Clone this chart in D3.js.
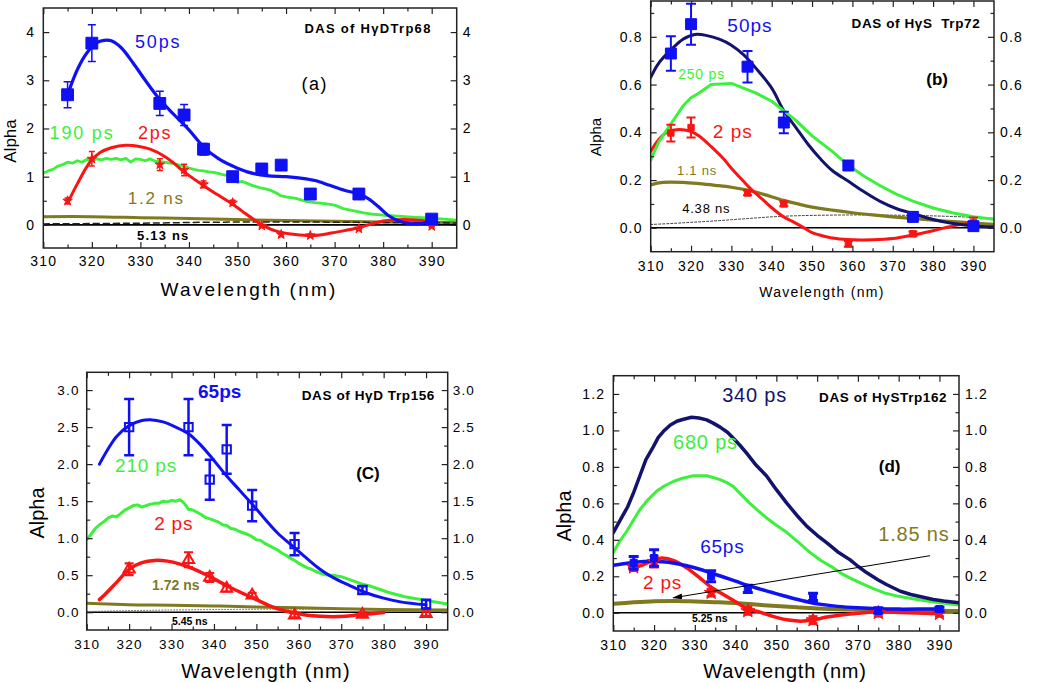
<!DOCTYPE html>
<html><head><meta charset="utf-8">
<script src="https://cdn.jsdelivr.net/npm/d3@7"></script>
<style>
body{margin:0;background:#fff}
svg{display:block}
text{font-family:"Liberation Sans",Arial,Helvetica,sans-serif;white-space:pre}
</style>
</head><body>
<svg id="chart" width="1050" height="683"></svg>
<script>
// ---------------- DATA ----------------
const xMajorTicks = [310,320,330,340,350,360,370,380,390];
const xMinorTicks = [315,325,335,345,355,365,375,385];

// Panel (a) : DAS of HγDTrp68
const aPtsNm   = [315,320,334,339,343,349,355,359,365,375,390];
const a50Val   = [2.70,3.77,2.52,2.28,1.57,1.00,1.16,1.24,0.64,0.64,0.12];
const a50Err   = [0.27,0.38,0.25,0.22,0.12,0,0,0,0,0,0];
const a2Val    = [0.50,1.37,1.25,1.14,0.84,0.46,-0.02,-0.20,-0.22,-0.08,-0.03];
const a2Err    = [0.06,0.15,0.12,0.12,0.07,0.05,0.03,0.04,0.03,0.02,0.02];
const a50Fit = [[315,2.7],[317,3.22],[319,3.57],[321,3.78],[322.5,3.83],[324,3.82],[326,3.68],[328.5,3.36],[331,3.0],[334,2.6],[337,2.28],[340,1.97],[343,1.62],[346,1.38],[349,1.22],[352,1.1],[356,1.02],[360,1.0],[363,0.97],[366,0.92],[369,0.82],[372,0.72],[375,0.64],[377,0.54],[379,0.38],[381,0.2],[383,0.09],[385,0.03],[387,0.02],[389,0.05],[390,0.08]];
const a2Fit = [[315,0.45],[317,0.85],[319.6,1.3],[321.7,1.5],[324,1.6],[327,1.65],[330,1.62],[332,1.57],[335,1.42],[337,1.27],[339,1.1],[342.5,0.85],[345,0.68],[348.7,0.45],[351,0.28],[353.5,0.1],[355.6,-0.03],[358,-0.13],[361,-0.19],[364.5,-0.22],[367,-0.21],[369.3,-0.17],[372,-0.12],[374.4,-0.07],[377,0.0],[380,0.08],[384,0.11],[388,0.09],[390,0.06]];
const a190 = [[310,1.07],[311,1.12],[312,1.15],[313,1.22],[314,1.25],[315,1.3],[316,1.28],[317,1.33],[318,1.3],[319,1.36],[320,1.33],[321,1.37],[322,1.35],[323,1.38],[324,1.36],[325,1.38],[326,1.35],[327,1.38],[328,1.3],[329,1.37],[330,1.36],[331,1.33],[332,1.37],[333,1.32],[334,1.31],[335,1.3],[336,1.28],[337,1.27],[338,1.24],[339,1.22],[340,1.18],[341,1.15],[342,1.13],[343,1.12],[344,1.1],[345,1.09],[346,1.07],[347,1.04],[348,1.02],[349,0.95],[350,0.88],[351,0.9],[352,0.86],[353,0.82],[354,0.79],[355,0.76],[356,0.74],[357,0.71],[358,0.66],[359,0.6],[360,0.58],[362,0.55],[364,0.49],[366,0.46],[368,0.44],[370,0.41],[372,0.33],[374,0.29],[376,0.25],[378,0.22],[380,0.2],[383,0.18],[386,0.16],[390,0.14],[395,0.1]];
const a1200 = [[310,0.17],[320,0.17],[330,0.15],[340,0.13],[350,0.11],[360,0.09],[370,0.075],[380,0.06],[395,0.05]];
const a5130 = [[310,0.02],[330,0.035],[345,0.055],[360,0.06],[380,0.05],[395,0.04]];

// Panel (b) : DAS of HγS Trp72
const bPtsNm = [315,320,334,343,359,375,390];
const b50Val = [0.73,0.853,0.675,0.441,0.261,0.046,0.007];
const b50Err = [0.072,0.086,0.066,0.045,0.015,0.02,0.012];
const b2Val  = [0.397,0.42,0.146,0.10,-0.067,-0.025,0.023];
const b2Err  = [0.035,0.042,0.01,0.01,0.012,0.01,0.02];
const b50Fit = [[310,0.63],[312,0.69],[315,0.745],[318,0.79],[321,0.81],[324,0.805],[327,0.79],[330,0.765],[333,0.725],[336,0.67],[340,0.585],[343,0.49],[346,0.42],[349,0.35],[352,0.29],[355,0.24],[359,0.195],[363,0.15],[367,0.11],[371,0.08],[375,0.06],[380,0.035],[385,0.018],[390,0.008],[395,0.004]];
const b250 = [[310,0.285],[312,0.36],[314,0.41],[316,0.46],[318,0.51],[320,0.545],[322,0.565],[325,0.6],[330,0.605],[333,0.585],[336,0.565],[340,0.53],[343,0.49],[346,0.45],[350,0.385],[355,0.32],[359,0.262],[363,0.215],[367,0.175],[371,0.14],[375,0.112],[380,0.083],[385,0.062],[390,0.046],[395,0.036]];
const b2Fit = [[310,0.32],[312,0.37],[314,0.4],[317,0.412],[320,0.403],[322,0.385],[325,0.34],[328,0.29],[330,0.25],[333,0.195],[335,0.16],[338,0.115],[340,0.084],[343,0.045],[345,0.028],[348,0.0],[350,-0.02],[353,-0.035],[356,-0.045],[360,-0.05],[365,-0.05],[370,-0.045],[375,-0.03],[380,-0.012],[385,0.008],[390,0.022]];
const b1100 = [[310,0.18],[313,0.19],[318,0.19],[322,0.185],[326,0.178],[330,0.17],[334,0.158],[338,0.14],[343,0.115],[347,0.098],[350,0.087],[355,0.074],[360,0.063],[365,0.054],[370,0.046],[375,0.039],[380,0.032],[385,0.026],[390,0.02],[395,0.015]];
const b4380 = [[310,0.014],[315,0.018],[320,0.023],[325,0.028],[330,0.034],[335,0.04],[340,0.046],[345,0.05],[350,0.052],[360,0.054],[370,0.053],[380,0.05],[390,0.044],[395,0.04]];

// Panel (c) : DAS of HγD Trp156
const cPtsNm = [320,334,339,343,349,359,375,390];
const c65Val = [2.50,2.50,1.79,2.20,1.44,0.92,0.30,0.11];
const c65Err = [0.38,0.38,0.27,0.33,0.21,0.15,0.05,0.06];
const c2Val  = [0.58,0.71,0.47,0.32,0.23,-0.04,-0.03,-0.02];
const c2Err  = [0.08,0.10,0.06,0.04,0.03,0.03,0.03,0.03];
const c65Fit = [[313,2.0],[315,2.2],[317,2.37],[320,2.52],[323,2.59],[325,2.6],[328,2.57],[331,2.5],[334,2.41],[337,2.25],[340,2.05],[343,1.84],[346,1.65],[349,1.46],[352,1.26],[355,1.07],[359,0.87],[362,0.72],[365,0.58],[368,0.47],[372,0.36],[376,0.26],[380,0.19],[384,0.14],[390,0.1]];
const c210 = [[310,0.98],[311,1.05],[312,1.13],[313,1.18],[314,1.22],[315,1.27],[316,1.3],[317,1.29],[318,1.33],[319,1.38],[320,1.41],[321,1.44],[322,1.45],[323,1.42],[324,1.44],[325,1.46],[326,1.47],[327,1.47],[328,1.5],[329,1.49],[330,1.51],[331,1.5],[332,1.52],[333,1.47],[334,1.39],[335,1.38],[336,1.35],[337,1.32],[338,1.28],[339,1.26],[340,1.24],[341,1.22],[342,1.18],[343,1.17],[344,1.13],[345,1.12],[346,1.09],[347,1.07],[348,1.05],[349,1.02],[350,0.98],[351,0.97],[352,0.93],[353,0.9],[354,0.87],[355,0.84],[356,0.8],[357,0.77],[358,0.73],[359,0.7],[360,0.66],[361,0.63],[362,0.6],[363,0.58],[364,0.55],[365,0.53],[366,0.51],[367,0.5],[368,0.5],[369,0.49],[370,0.48],[371,0.46],[372,0.44],[373,0.42],[374,0.4],[375,0.38],[377,0.35],[379,0.31],[381,0.27],[383,0.24],[385,0.21],[387,0.19],[389,0.17],[391,0.15],[393,0.13],[395,0.11]];
const c2Fit = [[313,0.17],[315,0.28],[317,0.4],[320,0.58],[323,0.67],[326,0.7],[329,0.69],[332,0.65],[335,0.59],[338,0.51],[341,0.42],[344,0.33],[347,0.25],[350,0.17],[353,0.09],[356,0.03],[359,-0.01],[362,-0.04],[365,-0.055],[368,-0.06],[371,-0.055],[374,-0.035],[377,-0.02],[380,-0.005]];
const c1720 = [[310,0.12],[315,0.11],[320,0.1],[330,0.095],[340,0.085],[350,0.072],[360,0.06],[370,0.048],[380,0.038],[395,0.03]];
const c5450 = [[310,0.01],[330,0.03],[350,0.04],[370,0.04],[395,0.03]];

// Panel (d) : DAS of HγSTrp162
const dPtsNm = [315,320,334,343,359,375,390];
const d65Val = [0.274,0.30,0.20,0.131,0.087,0.012,0.02];
const d65Err = [0.035,0.045,0.03,0.02,0.02,0.015,0.01];
const d2Val  = [0.25,0.28,0.11,0.01,-0.04,0.0,-0.005];
const d2Err  = [0.02,0.03,0.02,0.02,0.02,0.02,0.015];
const d340 = [[310,0.44],[312,0.52],[313.5,0.58],[315,0.66],[316.5,0.75],[318,0.84],[319.8,0.91],[321,0.96],[322.3,0.995],[324,1.03],[325.6,1.05],[327,1.06],[329.2,1.072],[331,1.068],[332.9,1.058],[334.5,1.04],[336.2,1.018],[338,0.99],[339.4,0.958],[341,0.92],[342.7,0.875],[345,0.81],[347.6,0.75],[350,0.675],[352.6,0.6],[355,0.535],[357.5,0.474],[360,0.425],[362.4,0.383],[365,0.335],[368.1,0.29],[370,0.255],[372.2,0.219],[375,0.18],[377,0.155],[380.4,0.118],[383,0.1],[386,0.085],[388.5,0.073],[391,0.065],[394.8,0.055]];
const d680 = [[310,0.33],[311.5,0.39],[313.3,0.447],[315,0.51],[316.5,0.565],[318.5,0.62],[320.6,0.666],[322.5,0.695],[324.7,0.72],[327,0.738],[329.6,0.751],[331,0.752],[332.9,0.751],[334.5,0.742],[336.2,0.73],[338,0.712],[339.4,0.693],[341.5,0.645],[343.5,0.6],[345.5,0.56],[347.6,0.52],[350,0.48],[352.6,0.44],[355.5,0.385],[358.3,0.33],[361,0.285],[364,0.246],[366,0.215],[368.1,0.19],[371,0.16],[373.5,0.135],[376.3,0.11],[380,0.09],[384.5,0.073],[389,0.057],[394.8,0.042]];
const d65Fit = [[310,0.26],[313,0.27],[316,0.278],[319,0.282],[322,0.28],[325,0.272],[328,0.258],[331,0.24],[334,0.218],[337,0.196],[340,0.173],[343,0.15],[346,0.13],[349,0.111],[352,0.092],[355,0.074],[358,0.058],[361,0.046],[365,0.035],[370,0.027],[375,0.022],[380,0.02],[385,0.02],[390,0.02]];
const d2Fit = [[314,0.245],[317,0.26],[320,0.29],[322,0.3],[325,0.285],[328,0.246],[331,0.195],[334,0.14],[337,0.1],[340,0.06],[343,0.02],[346,0.003],[350,-0.025],[353,-0.04],[356,-0.046],[359,-0.04],[362,-0.025],[365,-0.015],[370,-0.003],[375,0.005],[380,0.002],[390,-0.005]];
const d1850 = [[310,0.049],[315,0.057],[320,0.063],[325,0.065],[330,0.062],[335,0.058],[340,0.053],[345,0.045],[350,0.037],[355,0.03],[360,0.024],[370,0.016],[380,0.012],[395,0.01]];
const dArrow = [[387.7,0.313],[324.7,0.082]];

// ---------------- STYLE ----------------
const C = {blue:"#1010f5", navy:"#13136d", green:"#3cf03c", red:"#fa1414", olive:"#7f7a1f", black:"#000"};
const svg = d3.select("#chart");
const defs = svg.append("defs");
defs.append("marker").attr("id","arrowHead").attr("viewBox","0 0 10 6").attr("refX",9).attr("refY",3)
  .attr("markerWidth",10).attr("markerHeight",6).attr("markerUnits","userSpaceOnUse").attr("orient","auto")
  .append("path").attr("d","M0,0 L10,3 L0,6 Z").attr("fill","#000");

function zip(nm, v, e){ return nm.map((n,i)=>({x:n, y:v[i], e:e?e[i]:0})); }

function panel(cfg){
  const x = d3.scaleLinear().domain(cfg.xDom).range([cfg.L, cfg.R]);
  const y = d3.scaleLinear().domain(cfg.yDom).range([cfg.B, cfg.T]);
  const g = svg.append("g");
  defs.append("clipPath").attr("id","clip"+cfg.id).append("rect")
    .attr("x",cfg.L).attr("y",cfg.T).attr("width",cfg.R-cfg.L).attr("height",cfg.B-cfg.T);
  const plot = g.append("g").attr("clip-path",`url(#clip${cfg.id})`);

  plot.append("line").attr("x1",cfg.L).attr("x2",cfg.R).attr("y1",y(0)).attr("y2",y(0))
    .attr("stroke","#000").attr("stroke-width",1.6);

  cfg.lines.forEach(s=>{
    const line = d3.line().x(d=>x(d[0])).y(d=>y(d[1])).curve(s.smooth ? d3.curveCatmullRom.alpha(0.5) : d3.curveLinear);
    plot.append("path").datum(s.data).attr("d",line).attr("fill","none")
      .attr("stroke",s.color).attr("stroke-width",s.w||3).attr("stroke-dasharray",s.dash||null)
      .attr("stroke-linejoin","round").attr("stroke-linecap","round");
  });

  cfg.points.forEach(p=>{
    const pg = plot.append("g");
    p.data.forEach(d=>{
      if(d.e>0){
        pg.append("line").attr("x1",x(d.x)).attr("x2",x(d.x)).attr("y1",y(d.y-d.e)).attr("y2",y(d.y+d.e))
          .attr("stroke",p.color).attr("stroke-width",p.ew);
        [d.y-d.e,d.y+d.e].forEach(v=>pg.append("line").attr("x1",x(d.x)-p.cap/2).attr("x2",x(d.x)+p.cap/2)
          .attr("y1",y(v)).attr("y2",y(v)).attr("stroke",p.color).attr("stroke-width",p.ew));
      }
      pg.append("path").attr("transform",`translate(${x(d.x)},${y(d.y)})`)
        .attr("d",d3.symbol().type(p.sym).size(p.size)())
        .attr("fill",p.open?"#fff":p.color).attr("fill-opacity",p.open?0:1)
        .attr("stroke",p.color).attr("stroke-width",p.open?2:1);
    });
  });

  if(cfg.arrow){
    g.append("line").attr("x1",x(cfg.arrow[0][0])).attr("y1",y(cfg.arrow[0][1]))
      .attr("x2",x(cfg.arrow[1][0])).attr("y2",y(cfg.arrow[1][1]))
      .attr("stroke","#000").attr("stroke-width",1).attr("marker-end","url(#arrowHead)");
  }

  // axes (inward ticks on all sides)
  const fs = cfg.tickFs, ls = 1.2;
  const style = sel=>{ sel.select(".domain").remove();
    sel.selectAll("line").attr("stroke","#222").attr("stroke-width",1.2);
    sel.selectAll("text").attr("font-size",fs).attr("fill","#000").attr("letter-spacing",ls).attr("font-family","Liberation Sans, Arial, sans-serif"); };
  const yFmt = d3.format(cfg.yFmt);
  g.append("g").attr("transform",`translate(0,${cfg.B})`).call(d3.axisBottom(x).tickValues(xMajorTicks).tickSize(-6).tickPadding(cfg.xPad).tickFormat(d3.format("d"))).call(style);
  g.append("g").attr("transform",`translate(0,${cfg.B})`).call(d3.axisBottom(x).tickValues(xMinorTicks).tickSize(-3.5).tickFormat("")).call(style);
  g.append("g").attr("transform",`translate(0,${cfg.T})`).call(d3.axisTop(x).tickValues(xMajorTicks).tickSize(-6).tickFormat("")).call(style);
  g.append("g").attr("transform",`translate(0,${cfg.T})`).call(d3.axisTop(x).tickValues(xMinorTicks).tickSize(-3.5).tickFormat("")).call(style);
  g.append("g").attr("transform",`translate(${cfg.L},0)`).call(d3.axisLeft(y).tickValues(cfg.yMajor).tickSize(-6).tickPadding(cfg.lPad).tickFormat(yFmt)).call(style);
  g.append("g").attr("transform",`translate(${cfg.L},0)`).call(d3.axisLeft(y).tickValues(cfg.yMinor).tickSize(-3.5).tickFormat("")).call(style);
  g.append("g").attr("transform",`translate(${cfg.R},0)`).call(d3.axisRight(y).tickValues(cfg.yMajor).tickSize(-6).tickPadding(cfg.rPad).tickFormat(yFmt)).call(style);
  g.append("g").attr("transform",`translate(${cfg.R},0)`).call(d3.axisRight(y).tickValues(cfg.yMinor).tickSize(-3.5).tickFormat("")).call(style);

  g.append("rect").attr("x",cfg.L).attr("y",cfg.T).attr("width",cfg.R-cfg.L).attr("height",cfg.B-cfg.T)
    .attr("fill","none").attr("stroke","#222").attr("stroke-width",1.5);

  // axis titles
  g.append("text").attr("x",cfg.xTitle[0]).attr("y",cfg.xTitle[1]).attr("text-anchor","middle")
    .attr("font-size",cfg.xTitle[2]).attr("letter-spacing",cfg.xTitle[3]).text("Wavelength (nm)");
  g.append("text").attr("transform",`translate(${cfg.yTitle[0]},${cfg.yTitle[1]}) rotate(-90)`).attr("text-anchor","middle")
    .attr("font-size",cfg.yTitle[2]).text("Alpha");

  // annotations (placed in data coordinates)
  cfg.labels.forEach(l=>{
    g.append("text").attr("x",x(l.x)).attr("y",y(l.y)).attr("text-anchor",l.anchor||"start")
      .attr("font-size",l.fs).attr("font-weight",l.bold?"bold":"normal").attr("fill",l.color||"#000")
      .attr("letter-spacing",l.ls||0).text(l.t);
  });
}

// ---------------- PANELS ----------------
panel({id:"a", L:43.3, R:456.7, T:8, B:248, xDom:[310,395.15], yDom:[-0.48,4.5],
  yMajor:[0,1,2,3,4], yMinor:[0.5,1.5,2.5,3.5], yFmt:"d", tickFs:14, xPad:8, lPad:8, rPad:6,
  xTitle:[249,296,19,2.2], yTitle:[16,141,17],
  lines:[
    {data:a1200, color:C.olive, w:3, smooth:true},
    {data:a5130, color:"#222", w:1.5, dash:"6,4", smooth:true},
    {data:a190, color:C.green, w:2.8},
    {data:a2Fit, color:C.red, w:3, smooth:true},
    {data:a50Fit, color:C.blue, w:3.2, smooth:true}],
  points:[
    {data:zip(aPtsNm,a2Val,a2Err), color:C.red, sym:d3.symbolStar, size:28, cap:6, ew:1.5},
    {data:zip(aPtsNm,a50Val,a50Err), color:C.blue, sym:d3.symbolSquare, size:140, cap:8, ew:1.5}],
  labels:[
    {t:"DAS of HγDTrp68", x:390, y:3.98, anchor:"end", fs:13, bold:true, ls:1.3},
    {t:"50ps", x:328.9, y:3.68, fs:18, color:C.blue, ls:1.8},
    {t:"(a)", x:365.9, y:2.8, anchor:"middle", fs:18, ls:1.5},
    {t:"190 ps", x:311.3, y:1.78, fs:18, color:C.green, ls:1.8},
    {t:"2ps", x:329.5, y:1.78, fs:18, color:C.red, ls:1.8},
    {t:"1.2 ns", x:327.4, y:0.44, fs:17, color:C.olive, ls:1.8},
    {t:"5.13 ns", x:329.3, y:-0.31, fs:13, bold:true, ls:1.2}]
});

panel({id:"b", L:650.7, R:994, T:1, B:251.7, xDom:[310,395.1], yDom:[-0.1,0.95],
  yMajor:[0,0.2,0.4,0.6,0.8], yMinor:[0.1,0.3,0.5,0.7,0.9], yFmt:".1f", tickFs:14, xPad:9, lPad:8, rPad:6,
  xTitle:[822,297,14,1.3], yTitle:[601,137,15],
  lines:[
    {data:b4380, color:"#333", w:1, dash:"2,2", smooth:true},
    {data:b1100, color:C.olive, w:3.2, smooth:true},
    {data:b2Fit, color:C.red, w:3, smooth:true},
    {data:b50Fit, color:C.navy, w:3, smooth:true},
    {data:b250, color:C.green, w:3}],
  points:[
    {data:zip(bPtsNm,b2Val,b2Err), color:C.red, sym:d3.symbolSquare, size:40, cap:9, ew:2},
    {data:zip(bPtsNm,b50Val,b50Err), color:C.blue, sym:d3.symbolSquare, size:120, cap:10, ew:2}],
  labels:[
    {t:"DAS of HγS\u00A0 Trp72", x:391.7, y:0.836, anchor:"end", fs:13.5, bold:true, ls:0.6},
    {t:"50ps", x:329, y:0.82, fs:19, color:C.blue, ls:1},
    {t:"250 ps", x:316.8, y:0.623, fs:14, color:C.green, ls:0.8},
    {t:"(b)", x:381, y:0.60, anchor:"middle", fs:17, bold:true},
    {t:"2 ps", x:325.4, y:0.377, fs:19, color:C.red, ls:1},
    {t:"1.1 ns", x:316.5, y:0.222, fs:13, color:C.olive, ls:0.8},
    {t:"4.38 ns", x:317.8, y:0.064, fs:13, ls:0.8}]
});

panel({id:"c", L:86.7, R:447.7, T:372.3, B:630, xDom:[310,395.1], yDom:[-0.24,3.24],
  yMajor:[0,0.5,1,1.5,2,2.5,3], yMinor:[0.25,0.75,1.25,1.75,2.25,2.75], yFmt:".1f", tickFs:13.5, xPad:9, lPad:7, rPad:5,
  xTitle:[266,678,20,1.2], yTitle:[44,513,20],
  lines:[
    {data:c5450, color:"#666", w:1, dash:"1,2", smooth:true},
    {data:c1720, color:C.olive, w:3, smooth:true},
    {data:c210, color:C.green, w:3},
    {data:c2Fit, color:C.red, w:3.5, smooth:true},
    {data:c65Fit, color:C.blue, w:3, smooth:true}],
  points:[
    {data:zip(cPtsNm,c2Val,c2Err), color:C.red, sym:d3.symbolTriangle, size:55, cap:9, ew:2.2, open:true},
    {data:zip(cPtsNm,c65Val,c65Err), color:C.blue, sym:d3.symbolSquare, size:70, cap:10, ew:2.5, open:true}],
  labels:[
    {t:"65ps", x:336.25, y:2.89, fs:19, bold:true, color:C.blue},
    {t:"DAS of HγD Trp156", x:392.1, y:2.87, anchor:"end", fs:13.5, bold:true, ls:0.6},
    {t:"(C)", x:376.3, y:1.80, anchor:"middle", fs:17, bold:true},
    {t:"210 ps", x:316.7, y:1.89, fs:19, color:C.green, ls:0.8},
    {t:"2 ps", x:325.9, y:1.11, fs:19, color:C.red, ls:0.8},
    {t:"1.72 ns", x:325.4, y:0.30, fs:14, bold:true, color:C.olive},
    {t:"5.45 ns", x:330.1, y:-0.17, fs:10.5, bold:true}]
});

panel({id:"d", L:613.3, R:959, T:375.7, B:631, xDom:[310,394.8], yDom:[-0.1,1.3],
  yMajor:[0,0.2,0.4,0.6,0.8,1.0,1.2], yMinor:[0.1,0.3,0.5,0.7,0.9,1.1], yFmt:".1f", tickFs:14, xPad:9, lPad:8, rPad:6,
  xTitle:[785,678,20,0.8], yTitle:[571,516,20],
  lines:[
    {data:d1850, color:C.olive, w:4, smooth:true},
    {data:d680, color:C.green, w:3},
    {data:d340, color:C.navy, w:3.5},
    {data:d2Fit, color:C.red, w:3.5, smooth:true},
    {data:d65Fit, color:C.blue, w:3.5, smooth:true}],
  points:[
    {data:zip(dPtsNm,d2Val,d2Err), color:C.red, sym:d3.symbolStar, size:60, cap:9, ew:2.5},
    {data:zip(dPtsNm,d65Val,d65Err), color:C.blue, sym:d3.symbolSquare, size:50, cap:10, ew:3}],
  arrow:dArrow,
  labels:[
    {t:"340 ps", x:336.7, y:1.156, fs:20, color:C.navy, ls:0.8},
    {t:"DAS of HγSTrp162", x:391.9, y:1.156, anchor:"end", fs:13.5, bold:true, ls:0.6},
    {t:"680 ps", x:324.65, y:0.90, fs:20, color:C.green, ls:0.8},
    {t:"(d)", x:377.8, y:0.773, anchor:"middle", fs:17, bold:true},
    {t:"65ps", x:331.3, y:0.33, fs:19, color:C.blue, ls:0.8},
    {t:"2 ps", x:317.3, y:0.128, fs:19, color:C.red, ls:0.8},
    {t:"1.85 ns", x:375.0, y:0.396, fs:20, color:C.olive, ls:0.8},
    {t:"5.25 ns", x:329.3, y:-0.053, fs:10.5, bold:true}]
});
</script>
</body></html>
